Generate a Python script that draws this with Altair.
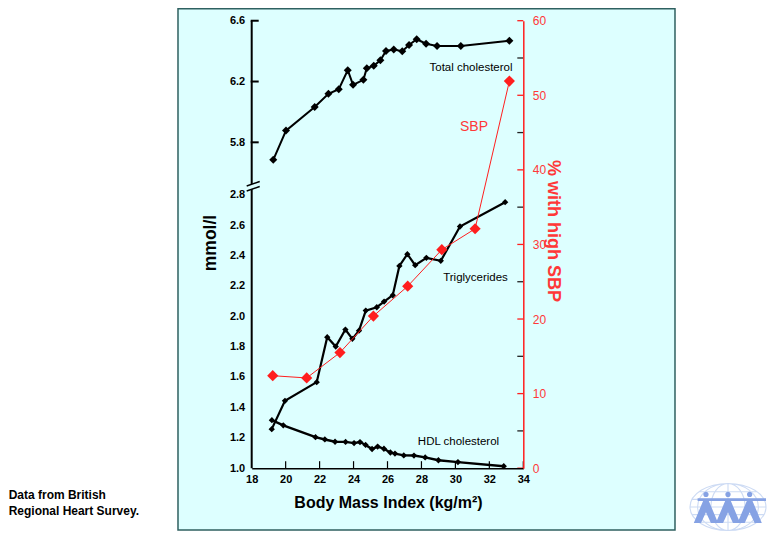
import altair as alt
import pandas as pd

# ---------------- data ----------------
bmi_tc = [19.27, 20.02, 21.71, 22.52, 23.13, 23.66, 23.97, 24.58, 24.78, 25.19,
          25.58, 25.91, 26.37, 26.87, 27.27, 27.72, 28.27, 28.92, 30.32, 33.18]
total_chol = [5.685, 5.877, 6.032, 6.119, 6.150, 6.275, 6.178, 6.211, 6.288, 6.303,
              6.340, 6.401, 6.410, 6.399, 6.441, 6.478, 6.449, 6.434, 6.434, 6.469]

bmi_tg = [19.18, 19.96, 21.83, 22.45, 22.95, 23.52, 23.93, 24.32, 24.72, 25.37,
          25.80, 26.31, 26.70, 27.17, 27.63, 28.29, 29.14, 30.27, 32.93]
triglycerides = [1.257, 1.443, 1.566, 1.862, 1.800, 1.912, 1.851, 1.905, 2.037, 2.059,
                 2.096, 2.138, 2.331, 2.408, 2.336, 2.384, 2.364, 2.590, 2.750]

bmi_hdl = [19.19, 19.86, 21.76, 22.31, 22.91, 23.53, 24.03, 24.38, 24.71, 25.09,
           25.42, 25.79, 26.17, 26.44, 26.96, 27.56, 28.22, 29.00, 30.15, 32.85]
hdl = [1.316, 1.282, 1.204, 1.189, 1.174, 1.173, 1.165, 1.172, 1.153, 1.126,
       1.142, 1.128, 1.103, 1.096, 1.084, 1.083, 1.071, 1.052, 1.040, 1.013]

bmi_sbp = [19.24, 21.24, 23.20, 25.17, 27.19, 29.20, 31.16, 33.18]
pct_high_sbp = [12.4, 12.1, 15.5, 20.4, 24.4, 29.3, 32.1, 51.9]

x_tick_labels = [18, 20, 22, 24, 26, 28, 30, 32, 34]
lower_tick_labels = [1.0, 1.2, 1.4, 1.6, 1.8, 2.0, 2.2, 2.4, 2.6, 2.8]
upper_tick_labels = [5.8, 6.2, 6.6]
right_tick_labels = [0, 10, 20, 30, 40, 50, 60]
right_minor_ticks = [0, 5, 10, 15, 20, 25, 30, 35, 40, 45, 50, 55, 60]

# ---------------- layout ----------------
FONT = "Liberation Sans"
TC_SHIFT = 2.656                 # broken-axis offset for total cholesterol
Y_TOP = 6.6 - TC_SHIFT           # 3.944 on the lower mmol/l scale
W, H = 271.6, 152.0 * (Y_TOP - 1.0)
RED = "#FF1E1E"
RED_TXT = "#FF3838"

xscale = alt.Scale(domain=[18, 34], nice=False, zero=False)
x_axis = alt.Axis(values=x_tick_labels, domain=True, domainColor="black", domainWidth=1.5,
                  ticks=False, grid=False, labelFont=FONT, labelFontSize=11,
                  labelFontWeight="bold", labelColor="black", labelPadding=5,
                  labelFlush=False, title=None, zindex=1)

yl_scale = alt.Scale(domain=[1.0, Y_TOP + 0.0002], nice=False, zero=False)
left_values = lower_tick_labels + [round(v - TC_SHIFT, 4) for v in upper_tick_labels]
left_axis = alt.Axis(values=left_values,
                     labelExpr=f"datum.value > 3 ? format(datum.value + {TC_SHIFT}, '.1f') : format(datum.value, '.1f')",
                     domain=False, ticks=False, grid=False, labelFont=FONT, labelFontSize=11,
                     labelFontWeight="bold", labelColor="black", labelPadding=7,
                     labelOverlap=False, title=None, zindex=1)

yr_scale = alt.Scale(domain=[0, 60], nice=False, zero=True)
right_axis = alt.Axis(orient="right", values=right_tick_labels, domain=True, domainColor=RED,
                      domainWidth=1.5, ticks=False, grid=False, labelFont=FONT, labelFontSize=12,
                      labelColor=RED_TXT, labelPadding=9, title=None, zindex=1)


def X(field):
    return alt.X(field, type="quantitative", scale=xscale, axis=x_axis)


def YL(field):
    return alt.Y(field, type="quantitative", scale=yl_scale, axis=left_axis)


def YR(field):
    return alt.Y(field, type="quantitative", scale=yr_scale, axis=right_axis)


dummy = pd.DataFrame({"a": [0]})

df_tc = pd.DataFrame({"bmi": bmi_tc, "tc": total_chol})
df_tg = pd.DataFrame({"bmi": bmi_tg, "tg": triglycerides})
df_hdl = pd.DataFrame({"bmi": bmi_hdl, "hdl": hdl})
df_sbp = pd.DataFrame({"bmi": bmi_sbp, "pct": pct_high_sbp})

# panel background
panel = alt.Chart(dummy).mark_rect(fill="#DDFFFF", stroke="#2F6060", strokeWidth=1.5).encode(
    x=alt.value(-73.7), x2=alt.value(423.3), y=alt.value(-12.0), y2=alt.value(509.3))

# broken left axis
seg_df = pd.DataFrame({"y0": [1.0, 2.870], "y1": [2.837, Y_TOP]})
left_segs = alt.Chart(seg_df).mark_rule(color="black", strokeWidth=2).encode(
    x=alt.value(0), y=YL("y0"), y2="y1")
brk_df = pd.DataFrame({"y0": [2.857, 2.824], "y1": [2.886, 2.853]})
breaks = alt.Chart(brk_df).mark_rule(color="black", strokeWidth=1.5).encode(
    x=alt.value(-5), x2=alt.value(8), y=YL("y0"), y2="y1")
up_ticks = alt.Chart(pd.DataFrame({"v": upper_tick_labels})).transform_calculate(
    p=f"datum.v - {TC_SHIFT}").mark_rule(color="black", strokeWidth=2).encode(
    x=alt.value(-1), x2=alt.value(7), y=YL("p"))

# x ticks (inward)
x_ticks = alt.Chart(pd.DataFrame({"t": x_tick_labels[1:]})).mark_rule(
    color="black", strokeWidth=1.2).encode(x=X("t"), y=alt.value(H), y2=alt.value(H - 7))

# series on left scale
tc = alt.Chart(df_tc).transform_calculate(p=f"datum.tc - {TC_SHIFT}")
tc_line = tc.mark_line(color="black", strokeWidth=2).encode(x=X("bmi"), y=YL("p"))
tc_pts = tc.mark_point(shape="diamond", filled=True, color="black", opacity=1, size=64).encode(
    x=X("bmi"), y=YL("p"))

tg = alt.Chart(df_tg)
tg_line = tg.mark_line(color="black", strokeWidth=2.2).encode(x=X("bmi"), y=YL("tg"))
tg_pts = tg.mark_point(shape="diamond", filled=True, color="black", opacity=1, size=40).encode(
    x=X("bmi"), y=YL("tg"))

hd = alt.Chart(df_hdl)
hdl_line = hd.mark_line(color="black", strokeWidth=2.4).encode(x=X("bmi"), y=YL("hdl"))
hdl_pts = hd.mark_point(shape="diamond", filled=True, color="black", opacity=1, size=40).encode(
    x=X("bmi"), y=YL("hdl"))


def label(txt, x, y, size=11, color="black", weight="normal", angle=0, align="center"):
    return alt.Chart(dummy).mark_text(text=txt, font=FONT, fontSize=size, color=color,
                                      fontWeight=weight, angle=angle, align=align,
                                      baseline="middle").encode(x=alt.value(x), y=alt.value(y))


texts = [
    label("Total cholesterol", 219.3, 47.3, 11.5),
    label("SBP", 222.3, 106.3, 14, RED_TXT),
    label("Triglycerides", 223.8, 257.3, 11.5),
    label("HDL cholesterol", 206.8, 421.0, 11.5),
    label("Body Mass Index (kg/m²)", 136.8, 482.3, 16, weight="bold"),
    label("mmol/l", -40.5, 222.3, 17.5, weight="bold", angle=270),
    label("% with high SBP", 301.3, 210.3, 18, RED_TXT, weight="bold", angle=90),
    label("Data from British", -243.0, 474.3, 12, weight="bold", align="left"),
    label("Regional Heart Survey.", -243.0, 490.3, 12, weight="bold", align="left"),
]

# logo (globe with three figures)
globe_path = ("M -1 0 A 1 0.62 0 1 0 1 0 A 1 0.62 0 1 0 -1 0 "
              "M 0 -0.62 A 0.45 0.62 0 0 0 0 0.62 A 0.45 0.62 0 0 0 0 -0.62 "
              "M 0 -0.62 A 0.8 0.62 0 0 0 0 0.62 A 0.8 0.62 0 0 0 0 -0.62 "
              "M 0 -0.62 L 0 0.62 M -0.95 -0.2 L 0.95 -0.2 M -1 0 L 1 0 M -0.95 0.2 L 0.95 0.2 "
              "M -0.75 -0.4 L 0.75 -0.4 M -0.75 0.4 L 0.75 0.4")
people = "M -0.8 -0.23 L 1.0 -0.23 L 1.0 -0.16 L -0.8 -0.16 Z "
for cx in (-0.58, 0.0, 0.57):
    people += (f"M {cx-0.07} -0.17 L {cx+0.07} -0.17 L {cx+0.32} 0.42 L {cx+0.13} 0.42 "
               f"L {cx} 0.14 L {cx-0.13} 0.42 L {cx-0.32} 0.42 Z ")
    people += (f"M {cx-0.07} -0.33 A 0.07 0.07 0 1 0 {cx+0.07} -0.33 "
               f"A 0.07 0.07 0 1 0 {cx-0.07} -0.33 Z ")
globe = alt.Chart(dummy).mark_point(shape=globe_path, size=5776, filled=False,
                                    stroke="#CDDBF4", strokeWidth=1.1, opacity=1).encode(
    x=alt.value(476.3), y=alt.value(486.3))
figures = alt.Chart(dummy).mark_point(shape=people, size=5776, filled=True,
                                      fill="#86A2E4", strokeWidth=0, opacity=1).encode(
    x=alt.value(476.3), y=alt.value(486.3))

left_group = alt.layer(panel, left_segs, breaks, up_ticks, x_ticks,
                       tc_line, tc_pts, tg_line, tg_pts, hdl_line, hdl_pts,
                       *texts, globe, figures)

# SBP on right scale
sb = alt.Chart(df_sbp)
sbp_line = sb.mark_line(color=RED, strokeWidth=1).encode(x=X("bmi"), y=YR("pct"))
sbp_pts = sb.mark_point(shape="diamond", filled=True, color=RED, opacity=1, size=125).encode(
    x=X("bmi"), y=YR("pct"))
r_ticks = alt.Chart(pd.DataFrame({"v": right_minor_ticks})).mark_rule(strokeWidth=1.3).encode(
    x=alt.value(W - 6), x2=alt.value(W), y=YR("v"),
    color=alt.condition("datum.v % 10 == 0", alt.value(RED), alt.value("#222222")))
right_group = alt.layer(r_ticks, sbp_line, sbp_pts)

chart = alt.layer(left_group, right_group).resolve_scale(y="independent").properties(
    width=W, height=H,
    autosize=alt.AutoSizeParams(type="none"),
    padding={"left": 243.7, "top": 12.7, "right": 244, "bottom": 74},
    background="white",
).configure_view(stroke=None)

chart.save("out.html", embed_options={"renderer": "svg", "actions": False})
